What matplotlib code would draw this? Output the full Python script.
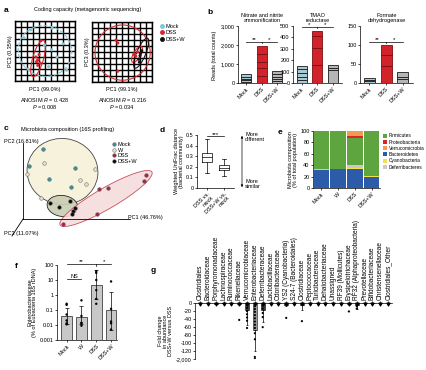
import numpy as np
import matplotlib
matplotlib.use("Agg")
import matplotlib.pyplot as plt
from matplotlib.patches import Ellipse, Patch
from matplotlib.lines import Line2D

plt.rcParams['font.family'] = ['Liberation Sans', 'DejaVu Sans']
plt.rcParams['font.size'] = 4
plt.rcParams['mathtext.fontset'] = 'custom'
plt.rcParams['mathtext.it'] = 'Liberation Sans:italic'
plt.rcParams['mathtext.rm'] = 'Liberation Sans'
plt.rcParams['axes.linewidth'] = 0.5
for ax_ in ('xtick', 'ytick'):
    plt.rcParams[ax_ + '.major.width'] = 0.5
    plt.rcParams[ax_ + '.major.size'] = 1.5
    plt.rcParams[ax_ + '.major.pad'] = 1
    plt.rcParams[ax_ + '.labelsize'] = 4

# ======================= DATA =======================
# panel a (PCA of coding capacity)
a_left_mock_x = [1.5, 2.6, 6.2, 8.0, 7.0, 5.6, 2.2, 8.6, 4.9, 6.1]
a_left_mock_y = [7.2, 8.5, 8.8, 6.2, 4.0, 2.4, 2.0, 1.8, 6.0, 5.2]
a_left_dss_x = [3.6, 3.9, 4.2, 3.5, 4.0, 3.8, 4.3, 3.7]
a_left_dss_y = [3.2, 3.6, 3.0, 4.0, 4.4, 2.6, 6.7, 3.4]
a_right_dss_x = [4.3, 4.0, 4.3, 7.0, 7.3, 7.6]
a_right_dss_y = [6.5, 7.0, 1.8, 4.6, 4.3, 5.0]
a_right_dssw_x = [7.8, 8.0, 8.3, 8.1, 7.9]
a_right_dssw_y = [3.8, 4.4, 5.2, 4.8, 3.3]
a_left_ellipses = [(5.0, 5.0, 9.0, 8.4, -20, 'Mock'),
                   (3.85, 3.75, 1.8, 6.3, -16, 'DSS')]
a_right_ellipses = [(5.1, 4.9, 9.2, 9.2, 0, 'DSS'),
                    (7.5, 4.6, 1.2, 3.0, -30, 'DSS'),
                    (8.2, 4.8, 1.5, 5.4, -23, 'DSS+W')]
a_xlabels = ['PC1 (99.0%)', 'PC1 (99.1%)']
a_ylabels = ['PC3 (0.35%)', 'PC3 (0.3%)']
a_R = ['0.428', '0.216']
a_P = ['0.008', '0.034']
a_groups = ['Mock', 'DSS', 'DSS+W']

# panel b (stacked read counts per sample)
b_groups = ['Mock', 'DSS', 'DSS+W']
b_titles = ['Nitrate and nitrite\nammonification', 'TMAO\nreductase', 'Formate\ndehydrogenase']
b_nitrate = [[60, 80, 90, 100, 120], [350, 450, 300, 450, 400], [100, 120, 110, 150, 170]]
b_tmao = [[30, 25, 35, 30, 30], [160, 150, 100, 50], [110, 25, 25]]
b_formate = [[4, 4, 4], [45, 30, 25], [10, 5, 15]]
b_ymax = [3000, 500, 150]
b_yticks = [[0, 1000, 2000, 3000], [0, 100, 200, 300, 400, 500], [0, 50, 100, 150]]
b_yticklabels = [['0', '1,000', '2,000', '3,000'], ['0', '100', '200', '300', '400', '500'],
                 ['0', '50', '100', '150']]
b_sig_y = [2150, 490, 108]
b_sig = [['**', '*'], ['*', '*'], ['**', '*']]

# panel c (16S PCoA)
c_mock_x = [20, 6, 26, 52, 48]
c_mock_y = [70, 53, 40, 51, 32]
c_w_x = [4, 21, 57, 63, 72, 18]
c_w_y = [45, 56, 39, 35, 50, 21]
c_dss_x = [123, 121, 85, 76, 74, 40]
c_dss_y = [44, 38, 31, 30, 5, -5]
c_dssw_x = [27, 36, 47, 50, 52, 49]
c_dssw_y = [16, 12, 18, 8, 11, 5]
c_ellipses = [(39.5, 47.5, 71, 66, -8, 'Mock+W'),
              (39.5, 13, 31, 21, -8, 'DSS+W'),
              (83, 20.5, 106, 21, 30, 'DSS')]
c_groups = ['Mock', 'W', 'DSS', 'DSS+W']

# panel d (weighted UniFrac distance boxes)
d_labels = ['DSS vs.\nmock', 'DSS+W vs.\nmock']
d_med = [0.29, 0.19]
d_q1 = [0.25, 0.17]
d_q3 = [0.33, 0.22]
d_lo = [0.14, 0.11]
d_hi = [0.46, 0.27]

# panel e (phylum composition, %)
e_groups = ['Mock', 'W', 'DSS', 'DSS+W']
e_phyla = ['Bacteroidetes', 'Cyanobacteria', 'Deferribacteres', 'Firmicutes',
           'Proteobacteria', 'Verrucomicrobia']
e_values = {
    'Bacteroidetes':   [32, 33, 34, 20],
    'Cyanobacteria':   [0.3, 0.3, 1.5, 0.5],
    'Deferribacteres': [0.2, 0.2, 4.5, 0.5],
    'Firmicutes':      [67.3, 66.3, 47, 78.5],
    'Proteobacteria':  [0.1, 0.1, 5, 0.3],
    'Verrucomicrobia': [0.1, 0.1, 8, 0.2],
}
e_legend_order = ['Firmicutes', 'Proteobacteria', 'Verrucomicrobia', 'Bacteroidetes',
                  'Cyanobacteria', 'Deferribacteres']

# panel f (Enterobacteriaceae qPCR)
f_groups = ['Mock', 'W', 'DSS', 'DSS+W']
f_mean = [0.04, 0.036, 4.7, 0.1]
f_lo = [0.012, 0.011, 0.56, 0.005]
f_hi = [0.13, 0.18, 43, 1.6]
f_points = [[0.26, 0.22, 0.05, 0.02, 0.013, 0.011],
            [0.44, 0.04, 0.014, 0.013, 0.009],
            [39, 30, 10, 2.1, 0.55, 0.26],
            [8, 0.12, 0.017, 0.013, 0.005]]

# panel g (fold change per family)
g_families = ['Clostridiales', 'Bacteroidaceae', 'Porphyromonadaceae', 'Lachnospiraceae',
              'Ruminococcaceae', 'Rikenellaceae', 'Verrucomicrobiaceae', 'Enterobacteriaceae',
              'Deferribacteraceae', 'Lactobacillaceae', 'Odoribacteraceae', 'YS2 (Cyanobacteria)',
              'S24-7 (Bacteroidales)', 'Clostridiaceae', 'Peptococcaceae', 'Turicibacteraceae',
              'Dehalobacteriaceae', 'Unassigned', 'RF39 (Mollicutes)', 'Erysipelotrichaceae',
              'RF32 (Alphaproteobacteria)', 'Prevotellaceae', 'Bifidobacteriaceae',
              'Christensenellaceae', 'Clostridiales_Other']
g_mean = [-1, -1, -1.5, -1, -1, -3, -17, -68, -17, -1, -1, -4, -1, -6, -1, -1,
          -1, -1, -1, -3, -6, -1, -1, -1, -1]
g_err = [1, 1, 2, 1, 1, 3, 38, 54, 30, 1, 1, 3, 1, 12, 1, 1, 1, 1, 1, 3, 10, 1, 1, 1, 1]
g_points = {
    'Rikenellaceae': [-42],
    'Verrucomicrobiaceae': [-5, -12, -20, -28, -36, -44, -62],
    'Enterobacteriaceae': [-8, -15, -22, -30, -38, -46, -54, -62, -75, -90, -1500, -2000],
    'Deferribacteraceae': [-6, -14, -25, -35, -60],
    'YS2 (Cyanobacteria)': [-37],
    'Clostridiaceae': [-45],
    'Erysipelotrichaceae': [-21],
    'RF32 (Alphaproteobacteria)': [-8, -14],
}
g_yticks = [0, -20, -40, -60, -80, -100, -120, -2000]
g_yticklabels = ['0', '-20', '-40', '-60', '-80', '-100', '-120', '-2,000']

# ======================= FIGURE =======================
W, H = 426, 370
fig = plt.figure(figsize=(W / 100, H / 100), dpi=100)


def pax(x0, y0, x1, y1):
    return fig.add_axes([x0 / W, 1 - y1 / H, (x1 - x0) / W, (y1 - y0) / H])


def ftext(x, y, s, **kw):
    return fig.text(x / W, 1 - y / H, s, **kw)


def letter(x, y, s):
    ftext(x, y, s, fontsize=6, fontweight='bold', ha='left', va='center')


def clean(ax):
    ax.spines['top'].set_visible(False)
    ax.spines['right'].set_visible(False)


# ---------------- panel a ----------------
a_col = {'Mock': '#7fc6da', 'DSS': '#d9262e', 'DSS+W': '#111111'}
letter(4, 10, 'a')
ftext(88, 10, 'Coding capacity (metagenomic sequencing)', ha='center', va='center')
a_rects = [(15, 21, 75, 81), (92, 22, 152, 82)]
a_pts = [[('Mock', a_left_mock_x, a_left_mock_y), ('DSS', a_left_dss_x, a_left_dss_y)],
         [('DSS', a_right_dss_x, a_right_dss_y), ('DSS+W', a_right_dssw_x, a_right_dssw_y)]]
a_ells = [a_left_ellipses, a_right_ellipses]
for k in range(2):
    ax = pax(*a_rects[k])
    ax.set_xlim(0, 10)
    ax.set_ylim(0, 10)
    ax.set_xticks(np.arange(11))
    ax.set_yticks(np.arange(11))
    ax.tick_params(length=0, labelbottom=False, labelleft=False)
    ax.grid(True, color='#000000', lw=1.0)
    ax.set_axisbelow(True)
    for sp in ax.spines.values():
        sp.set_linewidth(1.0)
    for (cx, cy, w, h, ang, g) in a_ells[k]:
        ls = '--' if g == 'Mock' else '-'
        ax.add_patch(Ellipse((cx, cy), w, h, angle=ang, fill=False, ec=a_col[g],
                             lw=0.8, ls=ls, zorder=3))
    for g, xs, ys in a_pts[k]:
        ax.scatter(xs, ys, s=5, color=a_col[g], edgecolor='none', zorder=4)
    ax.set_ylabel(a_ylabels[k], labelpad=1.5)
    cx = (a_rects[k][0] + a_rects[k][2]) / 2
    ftext(cx, 89, a_xlabels[k], ha='center', va='center')
    ftext(cx, 100, 'ANOSIM $R$ = ' + a_R[k], ha='center', va='center')
    ftext(cx, 107, '$P$ = ' + a_P[k], ha='center', va='center')
a_handles = [Line2D([], [], marker='o', ls='none', ms=2.5, color=a_col[g], label=g)
             for g in a_groups]
fig.legend(handles=a_handles, loc='upper left', bbox_to_anchor=(158 / W, 1 - 21 / H),
           frameon=False, fontsize=4, handlelength=0.6, handletextpad=0.2,
           labelspacing=0.25, borderpad=0)

# ---------------- panel b ----------------
letter(207, 12, 'b')
b_fill = ['#a9c9d3', '#d2232a', '#b5b5b5']
b_edge = ['#1a1a1a', '#7a0e12', '#1a1a1a']
b_data = [b_nitrate, b_tmao, b_formate]
b_rects = [(238, 26, 286, 83), (293, 26, 342, 83), (360, 26, 413, 83)]
for k in range(3):
    ax = pax(*b_rects[k])
    clean(ax)
    for i, segs in enumerate(b_data[k]):
        bottom = 0
        for s in segs:
            ax.bar(i, s, bottom=bottom, width=0.65, color=b_fill[i],
                   edgecolor=b_edge[i], lw=0.6)
            bottom += s
    ax.set_xlim(-0.55, 2.6)
    ax.set_ylim(0, b_ymax[k])
    ax.set_yticks(b_yticks[k])
    ax.set_yticklabels(b_yticklabels[k])
    ax.set_xticks(range(3))
    ax.set_xticklabels(b_groups, rotation=45, ha='right', rotation_mode='anchor')
    ax.set_title(b_titles[k], fontsize=4, pad=3, linespacing=1.0)
    y = b_sig_y[k]
    ax.plot([0, 2], [y, y], color='k', lw=0.5, clip_on=False)
    ax.plot([1, 1], [y, y - b_ymax[k] * 0.02], color='k', lw=0.5, clip_on=False)
    ax.text(0.5, y, b_sig[k][0], ha='center', va='bottom', fontsize=4.5)
    ax.text(1.5, y, b_sig[k][1], ha='center', va='bottom', fontsize=4.5)
ftext(215, 55, 'Reads (total counts)', rotation=90, ha='center', va='center')

# ---------------- panel c ----------------
letter(4, 128, 'c')
ftext(68, 130, 'Microbiota composition (16S profiling)', ha='center', va='center')
ax = pax(8, 138, 160, 240)
ax.set_xlim(-15, 137)
ax.set_ylim(-21, 81)
ax.set_xticks([])
ax.set_yticks([])
ax.spines['top'].set_visible(False)
ax.spines['right'].set_visible(False)
ax.spines['left'].set_position(('data', 0))
ax.spines['bottom'].set_position(('data', 0))
ax.spines['left'].set_bounds(0, 76)
ax.spines['bottom'].set_bounds(0, 107)
ax.spines['left'].set_linewidth(0.6)
ax.spines['bottom'].set_linewidth(0.6)
ax.plot([0, -11], [0, -17], color='k', lw=0.6, clip_on=False)
c_ell_style = {'Mock+W': ('#f6f1d8', '#333333'),
               'DSS+W': ('#c9cdb4', '#111111'),
               'DSS': ('#f6dcdc', '#c04050')}
for (cx, cy, w, h, ang, g) in c_ellipses:
    fc, ec = c_ell_style[g]
    ax.add_patch(Ellipse((cx, cy), w, h, angle=ang, fc=fc, ec=ec, lw=0.6,
                         alpha=0.9, zorder=1))
c_col = {'Mock': '#3d8f9e', 'W': '#e9d9cf', 'DSS': '#9b2a48', 'DSS+W': '#0a0a0a'}
c_pts = {'Mock': (c_mock_x, c_mock_y), 'W': (c_w_x, c_w_y),
         'DSS': (c_dss_x, c_dss_y), 'DSS+W': (c_dssw_x, c_dssw_y)}
for g in c_groups:
    xs, ys = c_pts[g]
    ax.scatter(xs, ys, s=7, color=c_col[g], edgecolor='#555555', lw=0.3, zorder=3)
ftext(4, 141, 'PC2 (16.81%)', ha='left', va='center')
ftext(128, 218, 'PC1 (46.76%)', ha='left', va='center')
ftext(4, 233, 'PC3 (11.07%)', ha='left', va='center')
c_handles = [Line2D([], [], marker='o', ls='none', ms=2.6, mfc=c_col[g], mec='#555555',
                    mew=0.3, label=g) for g in c_groups]
fig.legend(handles=c_handles, loc='upper left', bbox_to_anchor=(110 / W, 1 - 139 / H),
           frameon=False, fontsize=4, handlelength=0.6, handletextpad=0.3,
           labelspacing=0.15, borderpad=0)

# ---------------- panel d ----------------
letter(160, 131, 'd')
ax = pax(197, 135, 234, 188)
clean(ax)
stats = [dict(med=d_med[i], q1=d_q1[i], q3=d_q3[i], whislo=d_lo[i], whishi=d_hi[i],
              fliers=[], label=d_labels[i]) for i in range(2)]
ax.bxp(stats, positions=[1, 2], widths=0.55, showfliers=False,
       boxprops=dict(lw=0.5), whiskerprops=dict(lw=0.5), capprops=dict(lw=0.5),
       medianprops=dict(lw=0.5, color='k'))
ax.set_xlim(0.4, 2.6)
ax.set_ylim(0, 0.5)
ax.set_yticks([0, 0.1, 0.2, 0.3, 0.4, 0.5])
ax.set_yticklabels(['0', '0.1', '0.2', '0.3', '0.4', '0.5'])
ax.set_xticks([1, 2])
ax.set_xticklabels(d_labels, rotation=45, ha='right', rotation_mode='anchor',
                   linespacing=1.0)
ax.plot([1, 2], [0.49, 0.49], color='k', lw=0.5, clip_on=False)
ax.text(1.5, 0.485, '***', ha='center', va='bottom', fontsize=4.5)
ax.set_ylabel('Weighted UniFrac distance\n(bacterial community)', labelpad=1.5,
              linespacing=1.0)
ax.annotate('', xy=(242 / W, 1 - 133 / H), xytext=(242 / W, 1 - 190 / H),
            xycoords='figure fraction', textcoords='figure fraction',
            arrowprops=dict(arrowstyle='<|-|>', lw=0.5, color='k',
                            mutation_scale=3))
ftext(245, 137, 'More\ndifferent', ha='left', va='center', linespacing=1.0)
ftext(245, 184, 'More\nsimilar', ha='left', va='center', linespacing=1.0)

# ---------------- panel e ----------------
letter(278, 132, 'e')
e_col = {'Firmicutes': '#5ea53f', 'Proteobacteria': '#d6262a',
         'Verrucomicrobia': '#f29a50', 'Bacteroidetes': '#2c5ca9',
         'Cyanobacteria': '#f2e04d', 'Deferribacteres': '#c9c9c9'}
ax = pax(313, 131, 380, 188)
clean(ax)
bottom = np.zeros(len(e_groups))
for ph in e_phyla:
    vals = np.array(e_values[ph])
    ax.bar(range(len(e_groups)), vals, bottom=bottom, width=0.92, color=e_col[ph],
           edgecolor='none')
    bottom += vals
ax.set_xlim(-0.5, 3.5)
ax.set_ylim(0, 100)
ax.set_yticks([0, 20, 40, 60, 80, 100])
ax.set_xticks(range(len(e_groups)))
ax.set_xticklabels(e_groups, rotation=45, ha='right', rotation_mode='anchor')
ax.set_ylabel('Microbiota composition\n(% of total population)', labelpad=1.5,
              linespacing=1.0)
e_handles = [Patch(fc=e_col[p], label=p) for p in e_legend_order]
fig.legend(handles=e_handles, loc='upper left', bbox_to_anchor=(381 / W, 1 - 131 / H),
           frameon=False, fontsize=3.5, handlelength=0.8, handleheight=0.9,
           handletextpad=0.3, labelspacing=0.25, borderpad=0)

# ---------------- panel f ----------------
letter(15, 267, 'f')
ax = pax(57, 265, 117, 340)
clean(ax)
ax.set_yscale('log')
xs = np.arange(len(f_groups))
ax.bar(xs, np.array(f_mean) - 1e-3, bottom=1e-3, width=0.72, color='#c8c8c8',
       edgecolor='#222222', lw=0.5)
yerr = [np.array(f_mean) - np.array(f_lo), np.array(f_hi) - np.array(f_mean)]
ax.errorbar(xs, f_mean, yerr=yerr, fmt='none', ecolor='k', elinewidth=0.5,
            capsize=1.2, capthick=0.5)
for i, pts in enumerate(f_points):
    ax.scatter([i] * len(pts), pts, s=3, color='k', zorder=4, edgecolor='none')
ax.set_ylim(1e-3, 100)
ax.set_xlim(-0.65, 3.4)
ax.set_yticks([1e-3, 1e-2, 1e-1, 1, 10, 100])
ax.set_yticklabels(['0.001', '0.01', '0.1', '1', '10', '100'])
ax.minorticks_off()
ax.set_xticks(xs)
ax.set_xticklabels(f_groups, rotation=45, ha='right', rotation_mode='anchor')
ax.set_ylabel('Enterobacteriaceae\n(% of Eubacteria 16S rDNA)', labelpad=1.5,
              linespacing=1.0)
ax.plot([0, 1], [12, 12], color='k', lw=0.5)
ax.text(0.5, 12, 'NS', ha='center', va='bottom', fontsize=4)
ax.plot([0, 3], [120, 120], color='k', lw=0.5, clip_on=False)
ax.plot([2, 2], [120, 90], color='k', lw=0.5, clip_on=False)
ax.text(1.0, 115, '**', ha='center', va='bottom', fontsize=4.5)
ax.text(2.5, 115, '*', ha='center', va='bottom', fontsize=4.5)

# ---------------- panel g ----------------
letter(151, 270, 'g')
K = 19.0 / 1880.0


def g_fwd(y):
    y = np.asarray(y, dtype=float)
    return np.where(y >= -120, y, -120 + (y + 120) * K)


def g_inv(t):
    t = np.asarray(t, dtype=float)
    return np.where(t >= -120, t, -120 + (t + 120) / K)


ax = pax(195, 303, 392, 359)
ax.set_yscale('function', functions=(g_fwd, g_inv))
ax.spines['bottom'].set_visible(False)
ax.spines['right'].set_visible(False)
gx = np.arange(len(g_families))
g_fc = ['#9a9a9a' if f == 'Enterobacteriaceae' else '#3a3a3a' for f in g_families]
ax.bar(gx, g_mean, width=0.55, color=g_fc, edgecolor='#111111', lw=0.4)
ax.errorbar(gx, g_mean, yerr=[g_err, np.zeros(len(g_err))], fmt='none', ecolor='k',
            elinewidth=0.5, capsize=1.0, capthick=0.5)
ax.scatter(gx, np.zeros(len(gx)) - 1.5, s=4, marker='v', color='k', zorder=5,
           clip_on=False)
for fam, pts in g_points.items():
    i = g_families.index(fam)
    ax.scatter([i] * len(pts), pts, s=2.5, color='k', zorder=4, edgecolor='none')
ax.set_ylim(-2000, 0)
ax.set_xlim(-0.64, 24.5)
ax.set_yticks(g_yticks)
ax.set_yticklabels(g_yticklabels)
ax.xaxis.set_ticks_position('top')
ax.set_xticks(gx)
ax.set_xticklabels(g_families, rotation=90, ha='center', va='bottom', fontsize=4.7)
ax.tick_params(axis='x', pad=1, length=1.2)
ax.set_ylabel('Fold change\nin abundance\nDSS+W versus DSS', labelpad=2,
              linespacing=1.0)

fig.savefig('out.png', dpi=100)
